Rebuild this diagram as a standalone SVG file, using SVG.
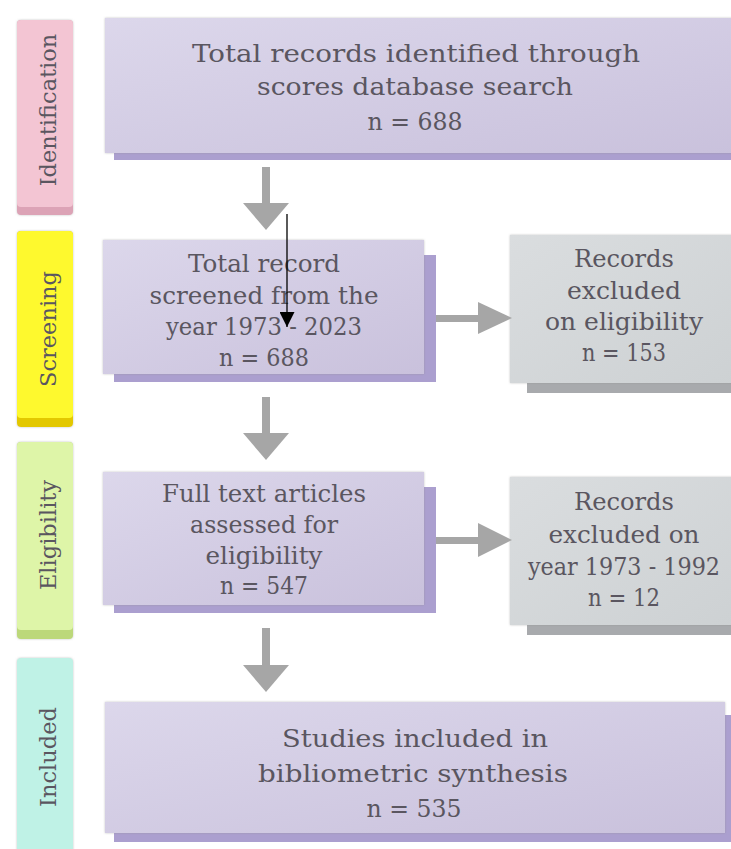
<svg xmlns="http://www.w3.org/2000/svg" width="731" height="849" viewBox="0 0 731 849">
<defs>
<linearGradient id="lav" x1="0" y1="0" x2="1" y2="1">
<stop offset="0" stop-color="#dcd7eb"/>
<stop offset="1" stop-color="#c9c1dc"/>
</linearGradient>
<linearGradient id="gry" x1="0" y1="0" x2="1" y2="1">
<stop offset="0" stop-color="#dadddf"/>
<stop offset="1" stop-color="#cdd1d3"/>
</linearGradient>
<filter id="sh" x="-10%" y="-10%" width="120%" height="120%">
<feDropShadow dx="0" dy="0" stdDeviation="1" flood-color="#888" flood-opacity="0.5"/>
</filter>
<marker id="blk" viewBox="0 0 10 10" refX="10" refY="5" markerWidth="15" markerHeight="15" markerUnits="userSpaceOnUse" orient="auto">
<path d="M0,0 L10,5 L0,10 Z" fill="#000"/>
</marker>
</defs>
<style>
.t{font-family:"DejaVu Serif","Liberation Serif",serif;font-size:25px;fill:#5a5660;text-anchor:middle}
.side{font-family:"DejaVu Serif","Liberation Serif",serif;font-size:22.5px;fill:#5a5660;text-anchor:middle}
.lav{fill:url(#lav);filter:url(#sh)}
.lavsh{fill:#ab9fcf}
.gry{fill:url(#gry);filter:url(#sh)}
.grysh{fill:#a8aaad}
.arr{fill:#a6a6a6}
</style>
<rect width="731" height="849" fill="#fff"/>

<g id="label-identification">
<rect x="17" y="20" width="56" height="195" rx="4" fill="#dca3b6" filter="url(#sh)"/>
<rect x="17" y="20" width="56" height="187" rx="4" fill="#f3c5d3"/>
<text class="side" transform="translate(56,110) rotate(-90)">Identification</text>
</g>
<g id="label-screening">
<rect x="17" y="231" width="56" height="196" rx="4" fill="#e3c800" filter="url(#sh)"/>
<rect x="17" y="231" width="56" height="187" rx="4" fill="#fef92e"/>
<text class="side" transform="translate(56,329) rotate(-90)">Screening</text>
</g>
<g id="label-eligibility">
<rect x="17" y="442" width="56" height="197" rx="4" fill="#bcd87a" filter="url(#sh)"/>
<rect x="17" y="442" width="56" height="188" rx="4" fill="#def5a8"/>
<text class="side" transform="translate(56,535) rotate(-90)">Eligibility</text>
</g>
<g id="label-included">
<rect x="17" y="658" width="56" height="200" rx="4" fill="#bff2e6" filter="url(#sh)"/>
<text class="side" transform="translate(56,757) rotate(-90)">Included</text>
</g>

<g id="node-identified">
<rect class="lavsh" x="114" y="30" width="630" height="130"/>
<rect class="lav" x="105" y="18" width="640" height="135"/>
<text class="t" x="416" y="62" textLength="448" lengthAdjust="spacingAndGlyphs">Total records identified through</text>
<text class="t" x="415" y="95" textLength="316" lengthAdjust="spacingAndGlyphs">scores database search</text>
<text class="t" x="415" y="130" textLength="95" lengthAdjust="spacingAndGlyphs">n = 688</text>
</g>

<g id="node-screened">
<rect class="lavsh" x="114" y="255" width="322" height="127"/>
<rect class="lav" x="103" y="240" width="321" height="134"/>
<text class="t" x="264" y="272" textLength="152" lengthAdjust="spacingAndGlyphs">Total record</text>
<text class="t" x="264" y="304" textLength="229" lengthAdjust="spacingAndGlyphs">screened from the</text>
<text class="t" x="264" y="335" textLength="196" lengthAdjust="spacingAndGlyphs">year 1973 - 2023</text>
<text class="t" x="264" y="366" textLength="90" lengthAdjust="spacingAndGlyphs">n = 688</text>
</g>

<g id="node-excluded-eligibility">
<rect class="grysh" x="527" y="250" width="210" height="143"/>
<rect class="gry" x="510" y="235" width="230" height="148"/>
<text class="t" x="624" y="267" textLength="100" lengthAdjust="spacingAndGlyphs">Records</text>
<text class="t" x="624" y="299" textLength="114" lengthAdjust="spacingAndGlyphs">excluded</text>
<text class="t" x="624" y="330" textLength="158" lengthAdjust="spacingAndGlyphs">on eligibility</text>
<text class="t" x="624" y="361" textLength="84" lengthAdjust="spacingAndGlyphs">n = 153</text>
</g>

<g id="node-fulltext">
<rect class="lavsh" x="114" y="487" width="322" height="126"/>
<rect class="lav" x="103" y="472" width="321" height="133"/>
<text class="t" x="264" y="502" textLength="204" lengthAdjust="spacingAndGlyphs">Full text articles</text>
<text class="t" x="264" y="533" textLength="148" lengthAdjust="spacingAndGlyphs">assessed for</text>
<text class="t" x="264" y="564" textLength="117" lengthAdjust="spacingAndGlyphs">eligibility</text>
<text class="t" x="264" y="594" textLength="88" lengthAdjust="spacingAndGlyphs">n = 547</text>
</g>

<g id="node-excluded-year">
<rect class="grysh" x="527" y="492" width="210" height="143"/>
<rect class="gry" x="510" y="477" width="230" height="148"/>
<text class="t" x="624" y="510" textLength="100" lengthAdjust="spacingAndGlyphs">Records</text>
<text class="t" x="624" y="543" textLength="151" lengthAdjust="spacingAndGlyphs">excluded on</text>
<text class="t" x="624" y="575" textLength="192" lengthAdjust="spacingAndGlyphs">year 1973 - 1992</text>
<text class="t" x="624" y="606" textLength="72" lengthAdjust="spacingAndGlyphs">n = 12</text>
</g>

<g id="node-included">
<rect class="lavsh" x="114" y="715" width="620" height="127"/>
<rect class="lav" x="105" y="702" width="620" height="131"/>
<text class="t" x="415" y="747" textLength="266" lengthAdjust="spacingAndGlyphs">Studies included in</text>
<text class="t" x="413" y="782" textLength="310" lengthAdjust="spacingAndGlyphs">bibliometric synthesis</text>
<text class="t" x="414" y="817" textLength="95" lengthAdjust="spacingAndGlyphs">n = 535</text>
</g>

<g id="connectors">
<rect class="arr" x="262" y="167" width="8" height="37"/>
<polygon class="arr" points="243,203 289,203 266,230"/>
<rect class="arr" x="262" y="397" width="8" height="37"/>
<polygon class="arr" points="243,433 289,433 266,460"/>
<rect class="arr" x="262" y="628" width="8" height="38"/>
<polygon class="arr" points="243,665 289,665 266,692"/>
<rect class="arr" x="436" y="315" width="43" height="7"/>
<polygon class="arr" points="478,302 478,334 512,318"/>
<rect class="arr" x="436" y="537" width="43" height="7"/>
<polygon class="arr" points="478,523 478,557 512,540"/>
<line x1="287" y1="214" x2="287" y2="327" stroke="#000" stroke-width="1.3" marker-end="url(#blk)"/>
</g>
</svg>
